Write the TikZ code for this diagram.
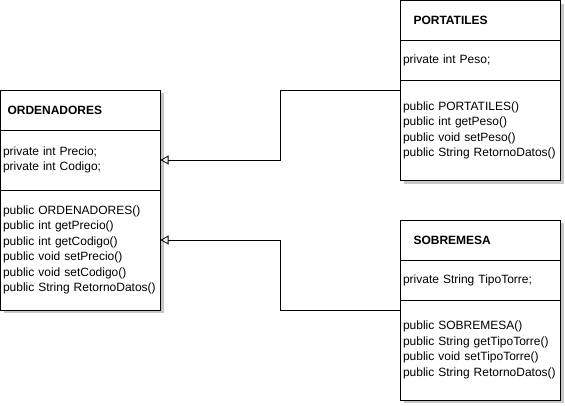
\documentclass[tikz,border=0pt]{standalone}
\usepackage{fontspec}
\setmainfont{Liberation Sans}
\usetikzlibrary{arrows.meta, positioning, backgrounds}

\begin{document}
\begin{tikzpicture}[
          x=1pt, y=-1pt,
          node distance=0pt,
          line width=0.8pt,
          member/.style={draw, fill=white, outer sep=0pt, inner xsep=2.5pt, inner ysep=0pt,
                         text width=155pt, minimum height=#1, align=left,
                         font=\fontsize{12}{15.5}\selectfont},
          ttl/.style={member=40pt, inner xsep=#1, text width={160pt-2*#1},
                      font=\fontsize{12}{15.5}\selectfont\bfseries, anchor=north west},
          inh/.style={-{Triangle[open, length=8pt, width=9pt]}},
          shade/.style={fill=black!22, draw=none}
        ]
        \useasboundingbox (0,0) rectangle (565,405);
        % Superclass
        \node[ttl=7pt] (ord) at (0.5,90) {ORDENADORES};
        \node[member=60pt, below=of ord] (orda) {private int Precio;\\private int Codigo;};
        \node[member=120pt, below=of orda] (ordm) {public ORDENADORES()\\public int getPrecio()\\public int getCodigo()\\public void setPrecio()\\public void setCodigo()\\public String RetornoDatos()};
        % Subclasses
        \node[ttl=13pt] (port) at (400.5,0.5) {PORTATILES};
        \node[member=40pt, below=of port] (porta) {private int Peso;};
        \node[member=100pt, below=of porta] (portm) {public PORTATILES()\\public int getPeso()\\public void setPeso()\\public String RetornoDatos()};

        \node[ttl=13pt] (sob) at (400.5,220) {SOBREMESA};
        \node[member=40pt, below=of sob] (soba) {private String TipoTorre;};
        \node[member=100pt, below=of soba] (sobm) {public SOBREMESA()\\public String getTipoTorre()\\public void setTipoTorre()\\public String RetornoDatos()};

        % Shadows
        \begin{scope}[on background layer]
          \fill[shade] ([shift={(3pt,-3pt)}]ord.north west) rectangle ([shift={(3pt,-3pt)}]ordm.south east);
          \fill[shade] ([shift={(3pt,-3pt)}]port.north west) rectangle ([shift={(3pt,-3pt)}]portm.south east);
          \fill[shade] ([shift={(3pt,-3pt)}]sob.north west) rectangle ([shift={(3pt,-3pt)}]sobm.south east);
        \end{scope}

        % Inheritance
        \draw[inh] ([yshift=-10pt]portm.north west) -- ++(-120,0) |- (orda.east);
        \draw[inh] ([yshift=-10pt]sobm.north west) -- ++(-120,0) |- ([yshift=-50pt]ordm.north east);
      \end{tikzpicture}
\end{document}
